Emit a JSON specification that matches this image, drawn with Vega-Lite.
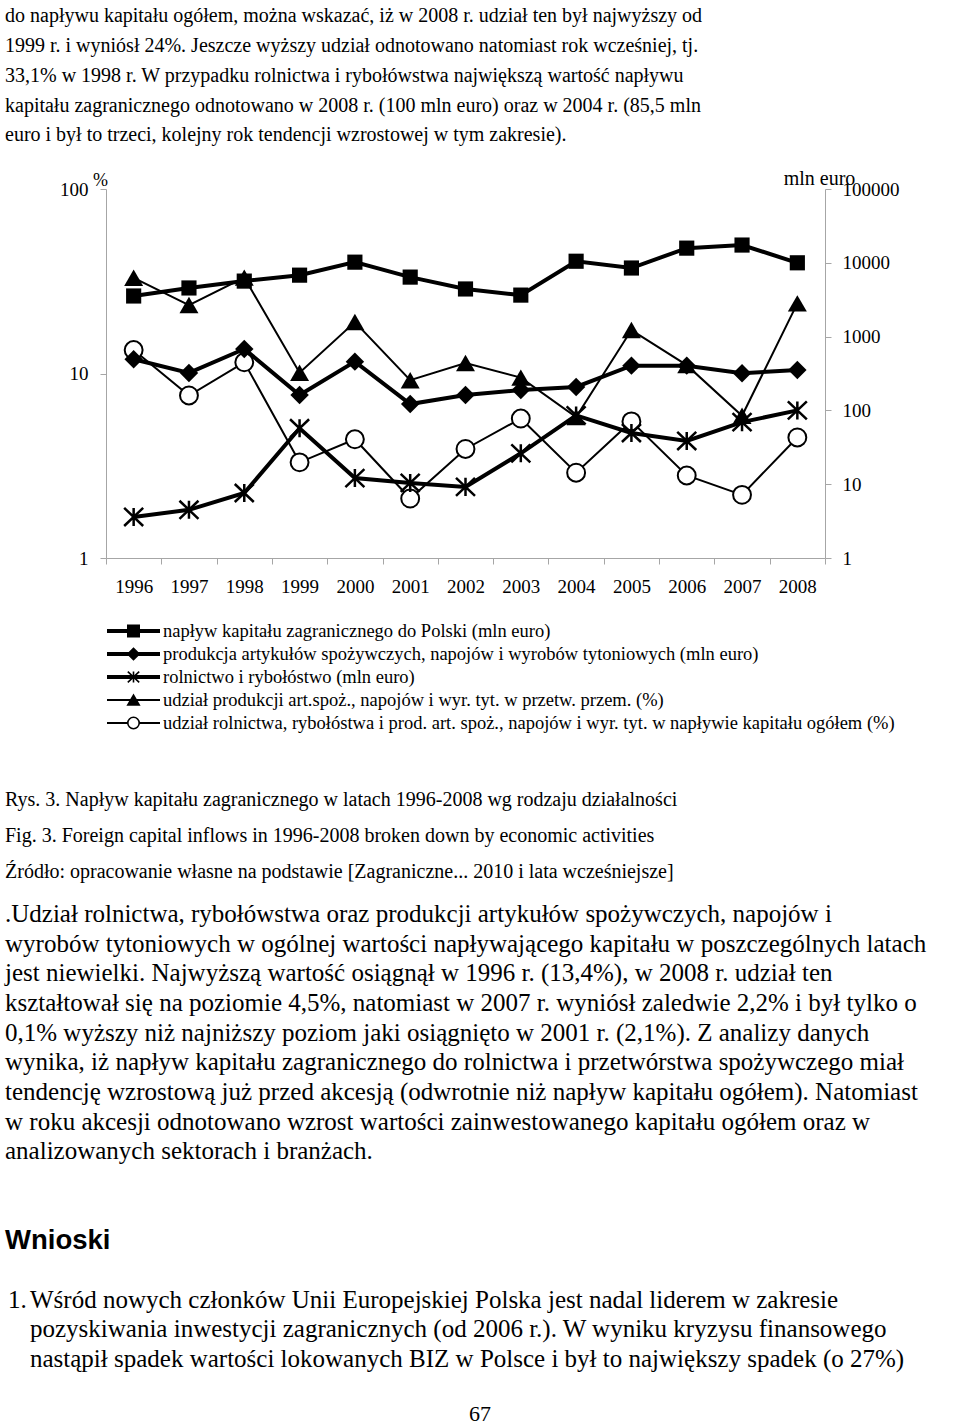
{
  "$schema": "https://vega.github.io/schema/vega-lite/v6.json",
  "background": "white",
  "padding": {"left": 5, "top": 0, "right": 0, "bottom": 0},
  "spacing": 0,
  "config": {"view": {"stroke": null}},
  "datasets": {
    "fdi": [
      {"year": 1996, "series": "naplyw", "unit": "mln euro", "value": 3550},
      {"year": 1997, "series": "naplyw", "unit": "mln euro", "value": 4560},
      {"year": 1998, "series": "naplyw", "unit": "mln euro", "value": 5650},
      {"year": 1999, "series": "naplyw", "unit": "mln euro", "value": 6800},
      {"year": 2000, "series": "naplyw", "unit": "mln euro", "value": 10200},
      {"year": 2001, "series": "naplyw", "unit": "mln euro", "value": 6400},
      {"year": 2002, "series": "naplyw", "unit": "mln euro", "value": 4420},
      {"year": 2003, "series": "naplyw", "unit": "mln euro", "value": 3650},
      {"year": 2004, "series": "naplyw", "unit": "mln euro", "value": 10500},
      {"year": 2005, "series": "naplyw", "unit": "mln euro", "value": 8500},
      {"year": 2006, "series": "naplyw", "unit": "mln euro", "value": 15800},
      {"year": 2007, "series": "naplyw", "unit": "mln euro", "value": 17400},
      {"year": 2008, "series": "naplyw", "unit": "mln euro", "value": 10000},
      {"year": 1996, "series": "produkcja", "unit": "mln euro", "value": 493},
      {"year": 1997, "series": "produkcja", "unit": "mln euro", "value": 322},
      {"year": 1998, "series": "produkcja", "unit": "mln euro", "value": 680},
      {"year": 1999, "series": "produkcja", "unit": "mln euro", "value": 162},
      {"year": 2000, "series": "produkcja", "unit": "mln euro", "value": 458},
      {"year": 2001, "series": "produkcja", "unit": "mln euro", "value": 122},
      {"year": 2002, "series": "produkcja", "unit": "mln euro", "value": 162},
      {"year": 2003, "series": "produkcja", "unit": "mln euro", "value": 189},
      {"year": 2004, "series": "produkcja", "unit": "mln euro", "value": 208},
      {"year": 2005, "series": "produkcja", "unit": "mln euro", "value": 404},
      {"year": 2006, "series": "produkcja", "unit": "mln euro", "value": 404},
      {"year": 2007, "series": "produkcja", "unit": "mln euro", "value": 318},
      {"year": 2008, "series": "produkcja", "unit": "mln euro", "value": 353},
      {"year": 1996, "series": "rolnictwo", "unit": "mln euro", "value": 3.6},
      {"year": 1997, "series": "rolnictwo", "unit": "mln euro", "value": 4.5},
      {"year": 1998, "series": "rolnictwo", "unit": "mln euro", "value": 7.6},
      {"year": 1999, "series": "rolnictwo", "unit": "mln euro", "value": 57.2},
      {"year": 2000, "series": "rolnictwo", "unit": "mln euro", "value": 12.1},
      {"year": 2001, "series": "rolnictwo", "unit": "mln euro", "value": 10.4},
      {"year": 2002, "series": "rolnictwo", "unit": "mln euro", "value": 9.2},
      {"year": 2003, "series": "rolnictwo", "unit": "mln euro", "value": 26.2},
      {"year": 2004, "series": "rolnictwo", "unit": "mln euro", "value": 85.5},
      {"year": 2005, "series": "rolnictwo", "unit": "mln euro", "value": 49.4},
      {"year": 2006, "series": "rolnictwo", "unit": "mln euro", "value": 38.5},
      {"year": 2007, "series": "rolnictwo", "unit": "mln euro", "value": 69.4},
      {"year": 2008, "series": "rolnictwo", "unit": "mln euro", "value": 100},
      {"year": 1996, "series": "udzial_prod", "unit": "%", "value": 33.0},
      {"year": 1997, "series": "udzial_prod", "unit": "%", "value": 23.5},
      {"year": 1998, "series": "udzial_prod", "unit": "%", "value": 33.1},
      {"year": 1999, "series": "udzial_prod", "unit": "%", "value": 10.1},
      {"year": 2000, "series": "udzial_prod", "unit": "%", "value": 19.0},
      {"year": 2001, "series": "udzial_prod", "unit": "%", "value": 9.2},
      {"year": 2002, "series": "udzial_prod", "unit": "%", "value": 11.4},
      {"year": 2003, "series": "udzial_prod", "unit": "%", "value": 9.5},
      {"year": 2004, "series": "udzial_prod", "unit": "%", "value": 5.8},
      {"year": 2005, "series": "udzial_prod", "unit": "%", "value": 17.2},
      {"year": 2006, "series": "udzial_prod", "unit": "%", "value": 11.1},
      {"year": 2007, "series": "udzial_prod", "unit": "%", "value": 5.9},
      {"year": 2008, "series": "udzial_prod", "unit": "%", "value": 24.0},
      {"year": 1996, "series": "udzial_roln", "unit": "%", "value": 13.4},
      {"year": 1997, "series": "udzial_roln", "unit": "%", "value": 7.6},
      {"year": 1998, "series": "udzial_roln", "unit": "%", "value": 11.5},
      {"year": 1999, "series": "udzial_roln", "unit": "%", "value": 3.3},
      {"year": 2000, "series": "udzial_roln", "unit": "%", "value": 4.4},
      {"year": 2001, "series": "udzial_roln", "unit": "%", "value": 2.1},
      {"year": 2002, "series": "udzial_roln", "unit": "%", "value": 3.9},
      {"year": 2003, "series": "udzial_roln", "unit": "%", "value": 5.7},
      {"year": 2004, "series": "udzial_roln", "unit": "%", "value": 2.9},
      {"year": 2005, "series": "udzial_roln", "unit": "%", "value": 5.5},
      {"year": 2006, "series": "udzial_roln", "unit": "%", "value": 2.8},
      {"year": 2007, "series": "udzial_roln", "unit": "%", "value": 2.2},
      {"year": 2008, "series": "udzial_roln", "unit": "%", "value": 4.5}
    ],
    "legend": [
      {"series": "naplyw", "unit": "mln euro", "label": "napływ kapitału zagranicznego do Polski (mln euro)"},
      {"series": "produkcja", "unit": "mln euro", "label": "produkcja artykułów spożywczych, napojów i wyrobów tytoniowych (mln euro)"},
      {"series": "rolnictwo", "unit": "mln euro", "label": "rolnictwo i rybołóstwo (mln euro)"},
      {"series": "udzial_prod", "unit": "%", "label": "udział produkcji art.spoż., napojów i wyr. tyt. w przetw. przem. (%)"},
      {"series": "udzial_roln", "unit": "%", "label": "udział rolnictwa, rybołóstwa i prod. art. spoż., napojów i wyr. tyt. w napływie kapitału ogółem (%)"}
    ]
  },
  "vconcat": [
    {
      "width": 950,
      "height": {"step": 29.75},
      "data": {"values": [
        {"line": 1, "text": "do napływu kapitału ogółem, można wskazać, iż w 2008 r. udział ten był najwyższy od"},
        {"line": 2, "text": "1999 r. i wyniósł 24%. Jeszcze wyższy udział odnotowano natomiast rok wcześniej, tj."},
        {"line": 3, "text": "33,1% w 1998 r. W przypadku rolnictwa i rybołówstwa największą wartość napływu"},
        {"line": 4, "text": "kapitału zagranicznego odnotowano w 2008 r. (100 mln euro) oraz w 2004 r. (85,5 mln"},
        {"line": 5, "text": "euro i był to trzeci, kolejny rok tendencji wzrostowej w tym zakresie)."}
      ]},
      "mark": {"type": "text", "align": "left", "baseline": "middle", "font": "Liberation Serif", "fontSize": 20, "color": "black"},
      "encoding": {
        "y": {"field": "line", "type": "ordinal", "axis": null, "scale": {"type": "band", "paddingInner": 0, "paddingOuter": 0.3235, "align": 0.08}},
        "x": {"value": 0},
        "text": {"field": "text"}
      }
    },
    {
      "spacing": 0,
      "bounds": "flush",
      "hconcat": [
        {
          "width": 101,
          "height": 1,
          "data": {"values": [{"t": ""}]},
          "mark": {"type": "text"},
          "encoding": {"text": {"field": "t"}}
        },
        {
          "width": 719,
          "height": 369,
          "data": {"name": "fdi"},
          "encoding": {
            "x": {
              "field": "year", "type": "ordinal",
              "scale": {"paddingInner": 0, "paddingOuter": 0},
              "axis": {
                "title": null, "labelAngle": 0, "tickBand": "extent", "grid": false,
                "labelFont": "Liberation Serif", "labelFontSize": 19, "labelColor": "black",
                "labelPadding": 13.5, "tickSize": 6, "tickColor": "#a6a6a6", "domainColor": "#a6a6a6"
              }
            }
          },
          "layer": [
            {
              "transform": [{"filter": {"field": "unit", "equal": "%"}}],
              "encoding": {
                "y": {
                  "field": "value", "type": "quantitative",
                  "scale": {"type": "log", "domain": [1, 100], "nice": false},
                  "axis": {
                    "orient": "left", "values": [1, 10, 100], "format": "d", "grid": false,
                    "title": "%", "titleAngle": 0, "titleX": -6, "titleY": -9, "titleAlign": "center", "titleBaseline": "middle",
                    "titleFont": "Liberation Serif", "titleFontSize": 18, "titleFontWeight": "normal", "titleColor": "black",
                    "labelFont": "Liberation Serif", "labelFontSize": 19, "labelColor": "black",
                    "labelPadding": 12, "tickSize": 6, "tickColor": "#a6a6a6", "domainColor": "#a6a6a6"
                  }
                }
              },
              "layer": [
                {"mark": {"type": "line", "color": "black", "strokeWidth": 2}, "encoding": {"detail": {"field": "series", "type": "nominal"}}},
                {"transform": [{"filter": {"field": "series", "equal": "udzial_prod"}}],
                 "mark": {"type": "point", "shape": "triangle-up", "filled": true, "color": "black", "size": 360, "opacity": 1}},
                {"transform": [{"filter": {"field": "series", "equal": "udzial_roln"}}],
                 "mark": {"type": "point", "shape": "circle", "filled": true, "fill": "white", "stroke": "black", "strokeWidth": 2, "size": 320, "opacity": 1}}
              ]
            },
            {
              "transform": [{"filter": {"field": "unit", "equal": "mln euro"}}],
              "encoding": {
                "y": {
                  "field": "value", "type": "quantitative",
                  "scale": {"type": "log", "domain": [1, 100000], "nice": false},
                  "axis": {
                    "orient": "right", "values": [1, 10, 100, 1000, 10000, 100000], "format": "d", "grid": false,
                    "title": "mln euro", "titleAngle": 0, "titleX": -6, "titleY": -11, "titleAlign": "center", "titleBaseline": "middle",
                    "titleFont": "Liberation Serif", "titleFontSize": 20, "titleFontWeight": "normal", "titleColor": "black",
                    "labelFont": "Liberation Serif", "labelFontSize": 19, "labelColor": "black",
                    "labelPadding": 11, "tickSize": 6, "tickColor": "#a6a6a6", "domainColor": "#a6a6a6"
                  }
                }
              },
              "layer": [
                {"mark": {"type": "line", "color": "black", "strokeWidth": 4}, "encoding": {"detail": {"field": "series", "type": "nominal"}}},
                {"transform": [{"filter": {"field": "series", "equal": "naplyw"}}],
                 "mark": {"type": "point", "shape": "square", "filled": true, "color": "black", "size": 230, "opacity": 1}},
                {"transform": [{"filter": {"field": "series", "equal": "produkcja"}}],
                 "mark": {"type": "point", "shape": "diamond", "filled": true, "color": "black", "size": 340, "opacity": 1}},
                {"transform": [{"filter": {"field": "series", "equal": "rolnictwo"}}],
                 "mark": {"type": "point", "shape": "M0,-0.95L0,0.95M-1,-0.95L1,0.95M-1,0.95L1,-0.95", "filled": false, "color": "black", "strokeWidth": 2.5, "size": 361, "opacity": 1}}
              ]
            }
          ],
          "resolve": {"scale": {"y": "independent"}, "axis": {"y": "independent"}}
        }
      ]
    },
    {
      "spacing": 0,
      "bounds": "flush",
      "hconcat": [
        {
          "width": 102,
          "height": 1,
          "data": {"values": [{"t": ""}]},
          "mark": {"type": "text"},
          "encoding": {"text": {"field": "t"}}
        },
        {
          "width": 53,
          "height": {"step": 23},
          "data": {"name": "legend"},
          "encoding": {
            "y": {
              "field": "series", "type": "nominal", "axis": null,
              "sort": ["naplyw", "produkcja", "rolnictwo", "udzial_prod", "udzial_roln"],
              "scale": {"type": "band", "paddingInner": 0, "paddingOuter": 0.3587, "align": 1}
            }
          },
          "layer": [
            {"transform": [{"filter": {"field": "unit", "equal": "mln euro"}}],
             "mark": {"type": "rule", "color": "black", "strokeWidth": 4},
             "encoding": {"x": {"datum": 0, "type": "quantitative", "scale": {"domain": [0, 1]}, "axis": null}, "x2": {"datum": 1}}},
            {"transform": [{"filter": {"field": "unit", "equal": "%"}}],
             "mark": {"type": "rule", "color": "black", "strokeWidth": 2},
             "encoding": {"x": {"datum": 0, "type": "quantitative", "axis": null}, "x2": {"datum": 1}}},
            {"mark": {"type": "point", "filled": true, "stroke": "black", "strokeWidth": 1.6, "size": 130, "opacity": 1},
             "encoding": {
               "x": {"datum": 0.5, "type": "quantitative", "axis": null},
               "shape": {"field": "series", "type": "nominal", "legend": null,
                 "scale": {"domain": ["naplyw", "produkcja", "rolnictwo", "udzial_prod", "udzial_roln"],
                           "range": ["square", "diamond", "M0,-0.95L0,0.95M-1,-0.95L1,0.95M-1,0.95L1,-0.95", "triangle-up", "circle"]}},
               "fill": {"field": "series", "type": "nominal", "legend": null,
                 "scale": {"domain": ["naplyw", "produkcja", "rolnictwo", "udzial_prod", "udzial_roln"],
                           "range": ["black", "black", "black", "black", "white"]}}
             }},
            {"mark": {"type": "text", "align": "left", "baseline": "middle", "dx": 3, "font": "Liberation Serif", "fontSize": 18.5, "color": "black"},
             "encoding": {"x": {"datum": 1, "type": "quantitative", "axis": null}, "text": {"field": "label"}}}
          ]
        }
      ]
    },
    {
      "width": 950,
      "height": {"step": 36},
      "data": {"values": [
        {"line": 1, "text": "Rys. 3. Napływ kapitału zagranicznego w latach 1996-2008 wg rodzaju działalności"},
        {"line": 2, "text": "Fig. 3. Foreign capital inflows in 1996-2008 broken down by economic activities"},
        {"line": 3, "text": "Źródło: opracowanie własne na podstawie [Zagraniczne... 2010 i lata wcześniejsze]"}
      ]},
      "mark": {"type": "text", "align": "left", "baseline": "middle", "font": "Liberation Serif", "fontSize": 20, "color": "black"},
      "encoding": {
        "y": {"field": "line", "type": "ordinal", "axis": null, "scale": {"type": "band", "paddingInner": 0, "paddingOuter": 0.6528, "align": 1}},
        "x": {"value": 0},
        "text": {"field": "text"}
      }
    },
    {
      "width": 950,
      "height": {"step": 29.65},
      "data": {"values": [
        {"line": 1, "text": ".Udział rolnictwa, rybołówstwa oraz produkcji artykułów spożywczych, napojów i"},
        {"line": 2, "text": "wyrobów tytoniowych w ogólnej wartości napływającego kapitału w poszczególnych latach"},
        {"line": 3, "text": "jest niewielki. Najwyższą wartość osiągnął w 1996 r. (13,4%), w 2008 r. udział ten"},
        {"line": 4, "text": "kształtował się na poziomie 4,5%, natomiast w 2007 r. wyniósł zaledwie 2,2% i był tylko o"},
        {"line": 5, "text": "0,1% wyższy niż najniższy poziom jaki osiągnięto w 2001 r. (2,1%). Z analizy danych"},
        {"line": 6, "text": "wynika, iż napływ kapitału zagranicznego do rolnictwa i przetwórstwa spożywczego miał"},
        {"line": 7, "text": "tendencję wzrostową już przed akcesją (odwrotnie niż napływ kapitału ogółem). Natomiast"},
        {"line": 8, "text": "w roku akcesji odnotowano wzrost wartości zainwestowanego kapitału ogółem oraz w"},
        {"line": 9, "text": "analizowanych sektorach i branżach."}
      ]},
      "mark": {"type": "text", "align": "left", "baseline": "middle", "font": "Liberation Serif", "fontSize": 25, "color": "black"},
      "encoding": {
        "y": {"field": "line", "type": "ordinal", "axis": null, "scale": {"type": "band", "paddingInner": 0, "paddingOuter": 0.1379, "align": 1}},
        "x": {"value": 0},
        "text": {"field": "text"}
      }
    },
    {
      "width": 950,
      "height": {"step": 40},
      "data": {"values": [{"line": 1, "text": "Wnioski"}]},
      "mark": {"type": "text", "align": "left", "baseline": "middle", "font": "Liberation Sans", "fontWeight": "bold", "fontSize": 27.5, "color": "black"},
      "encoding": {
        "y": {"field": "line", "type": "ordinal", "axis": null, "scale": {"type": "band", "paddingInner": 0, "paddingOuter": 0.675, "align": 1}},
        "x": {"value": 0},
        "text": {"field": "text"}
      }
    },
    {
      "width": 950,
      "height": {"step": 29.5},
      "encoding": {
        "y": {"field": "line", "type": "ordinal", "axis": null, "scale": {"type": "band", "paddingInner": 0, "paddingOuter": 0.411, "align": 1}},
        "x": {"value": 0},
        "text": {"field": "text"}
      },
      "layer": [
        {
          "data": {"values": [{"line": 1, "text": "1."}]},
          "mark": {"type": "text", "align": "left", "baseline": "middle", "dx": 3, "font": "Liberation Serif", "fontSize": 25, "color": "black"}
        },
        {
          "data": {"values": [
            {"line": 1, "text": "Wśród nowych członków Unii Europejskiej Polska jest nadal liderem w zakresie"},
            {"line": 2, "text": "pozyskiwania inwestycji zagranicznych (od 2006 r.). W wyniku kryzysu finansowego"},
            {"line": 3, "text": "nastąpił spadek wartości lokowanych BIZ w Polsce i był to największy spadek (o 27%)"}
          ]},
          "mark": {"type": "text", "align": "left", "baseline": "middle", "dx": 25, "font": "Liberation Serif", "fontSize": 25, "color": "black"}
        }
      ]
    },
    {
      "width": 950,
      "height": {"step": 24},
      "data": {"values": [{"line": 1, "text": "67"}]},
      "mark": {"type": "text", "align": "center", "baseline": "middle", "font": "Liberation Serif", "fontSize": 22, "color": "black"},
      "encoding": {
        "y": {"field": "line", "type": "ordinal", "axis": null, "scale": {"type": "band", "paddingInner": 0, "paddingOuter": 0.5833, "align": 1}},
        "text": {"field": "text"}
      }
    }
  ]
}
